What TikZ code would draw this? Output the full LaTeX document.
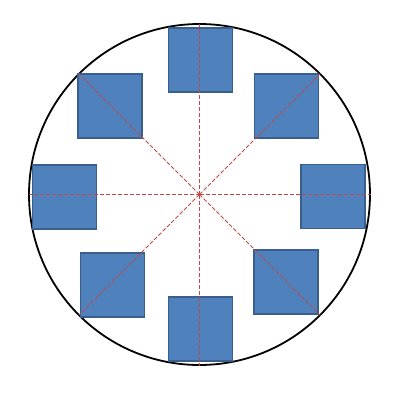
\documentclass[tikz,border=0pt]{standalone}
\usetikzlibrary{calc}
\begin{document}
\begin{tikzpicture}[x=1pt,y=-1pt,
  blk/.style={draw=sqborder,fill=sqfill,line width=1.1pt,minimum width=64pt,minimum height=64pt,inner sep=0pt,outer sep=0pt},
  ray/.style={draw=raycol,line width=0.8pt,dash pattern=on 4pt off 2pt},
  ring/.style={draw=black,line width=1.8pt}]
\definecolor{sqfill}{HTML}{4F81BD}
\definecolor{sqborder}{HTML}{3A5F8C}
\definecolor{raycol}{HTML}{C04848}
\useasboundingbox (0,0) rectangle (413,408);
\coordinate (c) at (199.5,194.5);
\node[ring,circle,minimum size=341pt,inner sep=0pt] (ring) at (c) {};
\node[blk] (sT) at (200.5,60) {};
\node[blk] (sTR) at (286.5,106) {};
\node[blk] (sR) at (333,196.5) {};
\node[blk] (sBR) at (286,282) {};
\node[blk] (sB) at (200.5,329) {};
\node[blk] (sBL) at (112.5,285) {};
\node[blk] (sL) at (64.5,197) {};
\node[blk] (sTL) at (110,106) {};
\foreach \a/\n in {0/e0,45/e45,90/e90,135/e135,180/e180,225/e225,270/e270,315/e315}{
  \coordinate (\n) at ($(c)+(\a:171)$);
}
\foreach \n in {e0,e45,e90,e135,e180,e225,e270,e315}{
  \draw[ray] (c) -- (\n);
}
\end{tikzpicture}
\end{document}
